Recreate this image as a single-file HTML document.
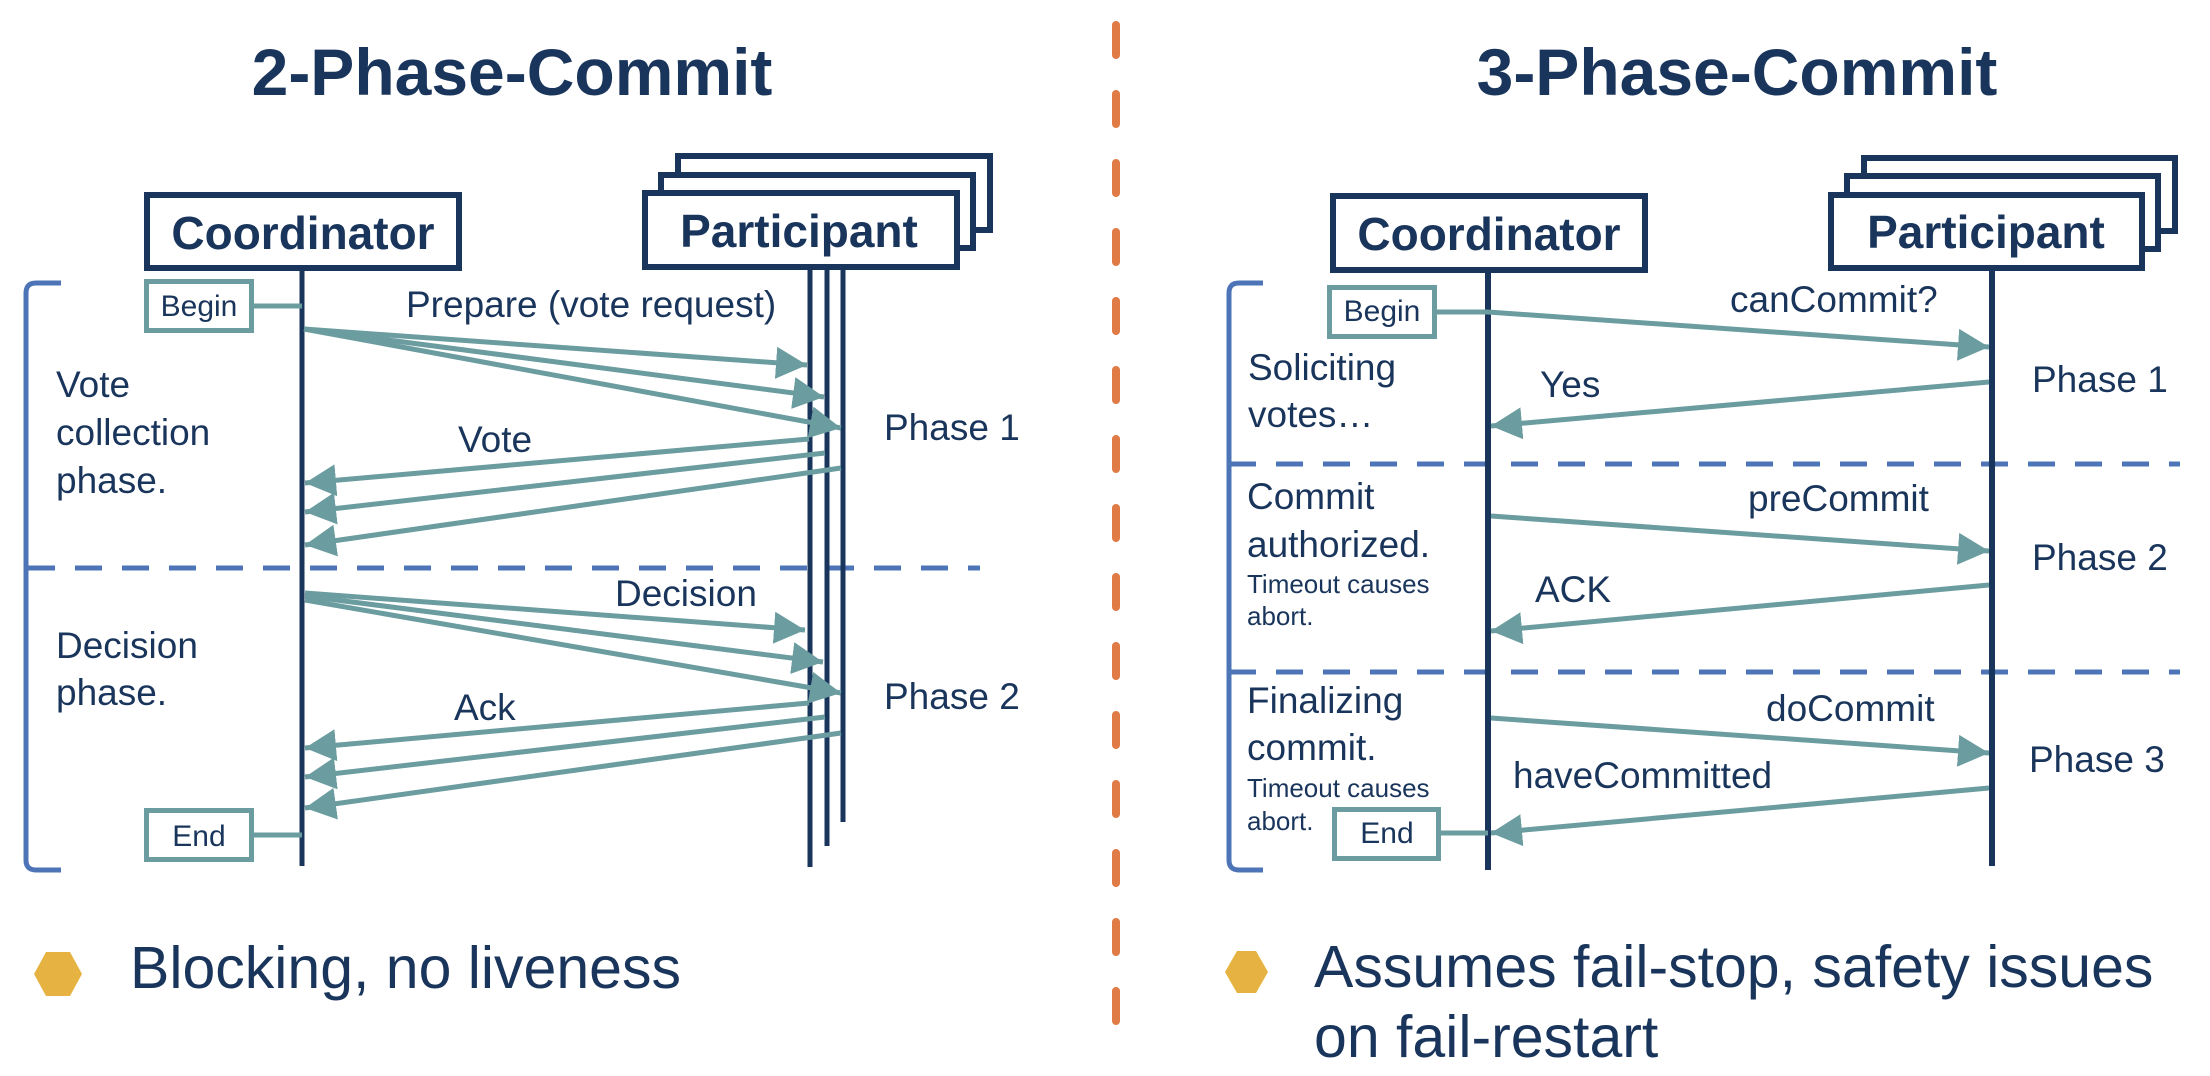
<!DOCTYPE html>
<html><head><meta charset="utf-8"><style>
html,body{margin:0;padding:0;background:#fff;}
svg{display:block;}
text{font-family:"Liberation Sans",Arial,sans-serif;fill:#1a355b;}
</style></head><body>
<svg width="2210" height="1076" viewBox="0 0 2210 1076" xmlns="http://www.w3.org/2000/svg">
<defs>
<marker id="ah" markerUnits="userSpaceOnUse" markerWidth="34" markerHeight="34" refX="31" refY="16" orient="auto">
<path d="M0,0 L31,16 L0,32 z" fill="#6b9c9f"/>
</marker>
</defs>
<rect width="2210" height="1076" fill="#fff"/>

<text x="512" y="95" font-size="66" font-weight="bold" text-anchor="middle">2-Phase-Commit</text>
<text x="1737" y="95" font-size="66" font-weight="bold" text-anchor="middle">3-Phase-Commit</text>

<line x1="1116" y1="25" x2="1116" y2="1030" stroke="#e07b45" stroke-width="8" stroke-linecap="round" stroke-dasharray="30 39"/>

<path d="M61,283 L36,283 Q26,283 26,293 L26,860 Q26,870 36,870 L61,870" fill="none" stroke="#4e74b8" stroke-width="5"/>
<line x1="28" y1="568" x2="980" y2="568" stroke="#4e74b8" stroke-width="5" stroke-dasharray="27 20"/>

<line x1="302" y1="271" x2="302" y2="866" stroke="#1a355b" stroke-width="5"/>
<line x1="810" y1="268" x2="810" y2="867" stroke="#1a355b" stroke-width="5"/>
<line x1="827" y1="250" x2="827" y2="846" stroke="#1a355b" stroke-width="5"/>
<line x1="843" y1="232" x2="843" y2="822" stroke="#1a355b" stroke-width="5"/>

<rect x="147" y="195" width="312" height="73" fill="#fff" stroke="#1a355b" stroke-width="6"/>
<text x="303" y="249" font-size="46" font-weight="bold" text-anchor="middle">Coordinator</text>
<rect x="678" y="156" width="312" height="74" fill="#fff" stroke="#1a355b" stroke-width="6"/>
<rect x="661" y="175" width="312" height="73" fill="#fff" stroke="#1a355b" stroke-width="6"/>
<rect x="645" y="193" width="312" height="74" fill="#fff" stroke="#1a355b" stroke-width="6"/>
<text x="799" y="247" font-size="46" font-weight="bold" text-anchor="middle">Participant</text>

<rect x="146.5" y="281.5" width="105" height="49" fill="#fff" stroke="#6b9c9f" stroke-width="5"/>
<text x="199" y="316" font-size="30" text-anchor="middle">Begin</text>
<line x1="254" y1="306" x2="302" y2="306" stroke="#6b9c9f" stroke-width="5"/>
<rect x="146.5" y="810.5" width="105" height="49" fill="#fff" stroke="#6b9c9f" stroke-width="5"/>
<text x="199" y="846" font-size="30" text-anchor="middle">End</text>
<line x1="254" y1="835" x2="302" y2="835" stroke="#6b9c9f" stroke-width="5"/>

<g stroke="#6b9c9f" stroke-width="5" marker-end="url(#ah)">
<line x1="304" y1="329" x2="807" y2="365"/>
<line x1="304" y1="329" x2="824" y2="397"/>
<line x1="304" y1="329" x2="841" y2="428"/>
<line x1="809" y1="439" x2="305" y2="483"/>
<line x1="825" y1="453" x2="305" y2="512"/>
<line x1="841" y1="468" x2="305" y2="545"/>
<line x1="305" y1="593" x2="805" y2="630"/>
<line x1="305" y1="596" x2="823" y2="662"/>
<line x1="305" y1="600" x2="841" y2="693"/>
<line x1="809" y1="703" x2="305" y2="748"/>
<line x1="825" y1="717" x2="305" y2="777"/>
<line x1="841" y1="733" x2="305" y2="808"/>
</g>

<g font-size="37">
<text x="406" y="317">Prepare (vote request)</text>
<text x="458" y="452">Vote</text>
<text x="615" y="606">Decision</text>
<text x="454" y="720">Ack</text>
<text x="884" y="440">Phase 1</text>
<text x="884" y="709">Phase 2</text>
<text x="56" y="397">Vote</text>
<text x="56" y="445">collection</text>
<text x="56" y="493">phase.</text>
<text x="56" y="658">Decision</text>
<text x="56" y="705">phase.</text>
</g>

<polygon points="34,974 46,952 70,952 82,974 70,996 46,996" fill="#e6b342"/>
<text x="130" y="988" font-size="59">Blocking, no liveness</text>

<path d="M1263,283 L1239,283 Q1229,283 1229,293 L1229,860 Q1229,870 1239,870 L1263,870" fill="none" stroke="#4e74b8" stroke-width="5"/>
<line x1="1229" y1="464" x2="2180" y2="464" stroke="#4e74b8" stroke-width="5" stroke-dasharray="27 20"/>
<line x1="1229" y1="672" x2="2180" y2="672" stroke="#4e74b8" stroke-width="5" stroke-dasharray="27 20"/>

<line x1="1488" y1="273" x2="1488" y2="870" stroke="#1a355b" stroke-width="6"/>
<line x1="1992" y1="271" x2="1992" y2="866" stroke="#1a355b" stroke-width="6"/>

<rect x="1333" y="196" width="312" height="74" fill="#fff" stroke="#1a355b" stroke-width="6"/>
<text x="1489" y="250" font-size="46" font-weight="bold" text-anchor="middle">Coordinator</text>
<rect x="1864" y="158" width="311" height="73" fill="#fff" stroke="#1a355b" stroke-width="6"/>
<rect x="1847" y="176" width="311" height="73" fill="#fff" stroke="#1a355b" stroke-width="6"/>
<rect x="1831" y="195" width="311" height="73" fill="#fff" stroke="#1a355b" stroke-width="6"/>
<text x="1986" y="248" font-size="46" font-weight="bold" text-anchor="middle">Participant</text>

<rect x="1329.5" y="287.5" width="105" height="49" fill="#fff" stroke="#6b9c9f" stroke-width="5"/>
<text x="1382" y="321" font-size="30" text-anchor="middle">Begin</text>
<line x1="1437" y1="312" x2="1488" y2="312" stroke="#6b9c9f" stroke-width="5"/>
<rect x="1334.5" y="809.5" width="104" height="49" fill="#fff" stroke="#6b9c9f" stroke-width="5"/>
<text x="1387" y="843" font-size="30" text-anchor="middle">End</text>
<line x1="1441" y1="833" x2="1488" y2="833" stroke="#6b9c9f" stroke-width="5"/>

<g stroke="#6b9c9f" stroke-width="5" marker-end="url(#ah)">
<line x1="1488" y1="312" x2="1989" y2="347"/>
<line x1="1989" y1="382" x2="1491" y2="426"/>
<line x1="1491" y1="516" x2="1989" y2="551"/>
<line x1="1989" y1="585" x2="1491" y2="631"/>
<line x1="1491" y1="718" x2="1989" y2="753"/>
<line x1="1989" y1="788" x2="1491" y2="833"/>
</g>

<g font-size="37">
<text x="1730" y="312">canCommit?</text>
<text x="1540" y="397">Yes</text>
<text x="1748" y="511">preCommit</text>
<text x="1535" y="602">ACK</text>
<text x="1766" y="721">doCommit</text>
<text x="1513" y="788">haveCommitted</text>
<text x="2032" y="392">Phase 1</text>
<text x="2032" y="570">Phase 2</text>
<text x="2029" y="772">Phase 3</text>
<text x="1248" y="380">Soliciting</text>
<text x="1248" y="427">votes…</text>
<text x="1247" y="509">Commit</text>
<text x="1247" y="557">authorized.</text>
<text x="1247" y="713">Finalizing</text>
<text x="1247" y="760">commit.</text>
</g>
<g font-size="26">
<text x="1247" y="593">Timeout causes</text>
<text x="1247" y="625">abort.</text>
<text x="1247" y="797">Timeout causes</text>
<text x="1247" y="830">abort.</text>
</g>

<polygon points="1225,972 1237,951 1256,951 1268,972 1256,993 1237,993" fill="#e6b342"/>
<text x="1314" y="987" font-size="59">Assumes fail-stop, safety issues</text>
<text x="1314" y="1057" font-size="59">on fail-restart</text>
</svg>
</body></html>
